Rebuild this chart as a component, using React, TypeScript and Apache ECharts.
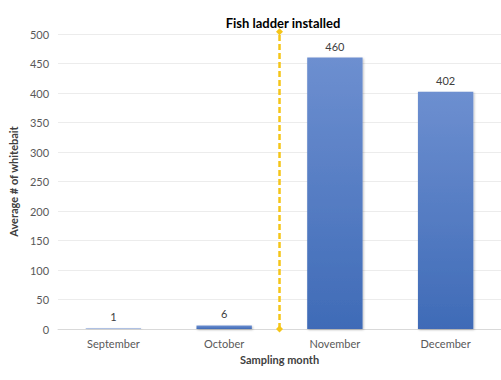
import React, { useEffect, useRef } from "react";
import * as echarts from "echarts";

const categories = ["September", "October", "November", "December"];
const values = [1, 6, 460, 402];
const yTicks = { min: 0, max: 500, interval: 50 };
const ladderX = 2; // boundary between October and November (0..4 scale)
const ladderY = [0, 504];
const ladderLabel = "Fish ladder installed";

export default function App() {
  const ref = useRef<HTMLDivElement>(null);
  useEffect(() => {
    if (!ref.current) return;
    const chart = echarts.init(ref.current, undefined, { renderer: "svg" });
    const font = "Lato, 'Open Sans', sans-serif";
    chart.setOption({
      animation: false,
      title: {
        text: ladderLabel,
        left: 278,
        textAlign: "center",
        top: 11,
        textStyle: { fontFamily: font, fontSize: 13, fontWeight: "bold", color: "#000" },
      },
      grid: { left: 54, right: 0, top: 34, bottom: 51 },
      xAxis: [
        {
          type: "category",
          data: categories,
          name: "Sampling month",
          nameLocation: "middle",
          nameGap: 25,
          nameTextStyle: { fontFamily: font, fontSize: 11, fontWeight: "bold", color: "#404040" },
          axisLine: { lineStyle: { color: "#d9d9d9" } },
          axisTick: { show: false },
          axisLabel: { fontFamily: font, fontSize: 11, color: "#595959", margin: 9 },
        },
        {
          type: "value",
          min: 0,
          max: 4,
          show: false,
          position: "bottom",
        },
      ],
      yAxis: {
        type: "value",
        min: yTicks.min,
        max: yTicks.max,
        interval: yTicks.interval,
        name: "Average # of whitebait",
        nameLocation: "middle",
        nameGap: 31,
        nameTextStyle: { fontFamily: font, fontSize: 11, fontWeight: "bold", color: "#404040" },
        axisLine: { show: false },
        axisTick: { show: false },
        axisLabel: { fontFamily: font, fontSize: 11, color: "#595959", margin: 9 },
        splitLine: { lineStyle: { color: "#ececec" } },
      },
      series: [
        {
          type: "bar",
          data: values,
          barWidth: "50%",
          itemStyle: {
            color: new echarts.graphic.LinearGradient(0, 0, 0, 1, [
              { offset: 0, color: "#6d8fd0" },
              { offset: 1, color: "#3f6bb7" },
            ]),
            shadowColor: "rgba(0,0,0,0.25)",
            shadowBlur: 2,
            shadowOffsetX: 1,
            shadowOffsetY: 1,
          },
          label: {
            show: true,
            position: "top",
            distance: 6,
            fontFamily: font,
            fontSize: 11,
            color: "#404040",
          },
        },
        {
          type: "line",
          xAxisIndex: 1,
          data: ladderY.map((y) => [ladderX, y]),
          symbol: "diamond",
          symbolSize: 7,
          showSymbol: true,
          showAllSymbol: true,
          itemStyle: { color: "#f5c518" },
          lineStyle: { color: "#f5c518", type: [6, 3], width: 2.5 },
          silent: true,
          clip: false,
          z: 5,
        },
      ],
    });
    return () => chart.dispose();
  }, []);
  return <div ref={ref} style={{ width: 501, height: 380, position: "absolute", left: 0, top: 0 }} />;
}
